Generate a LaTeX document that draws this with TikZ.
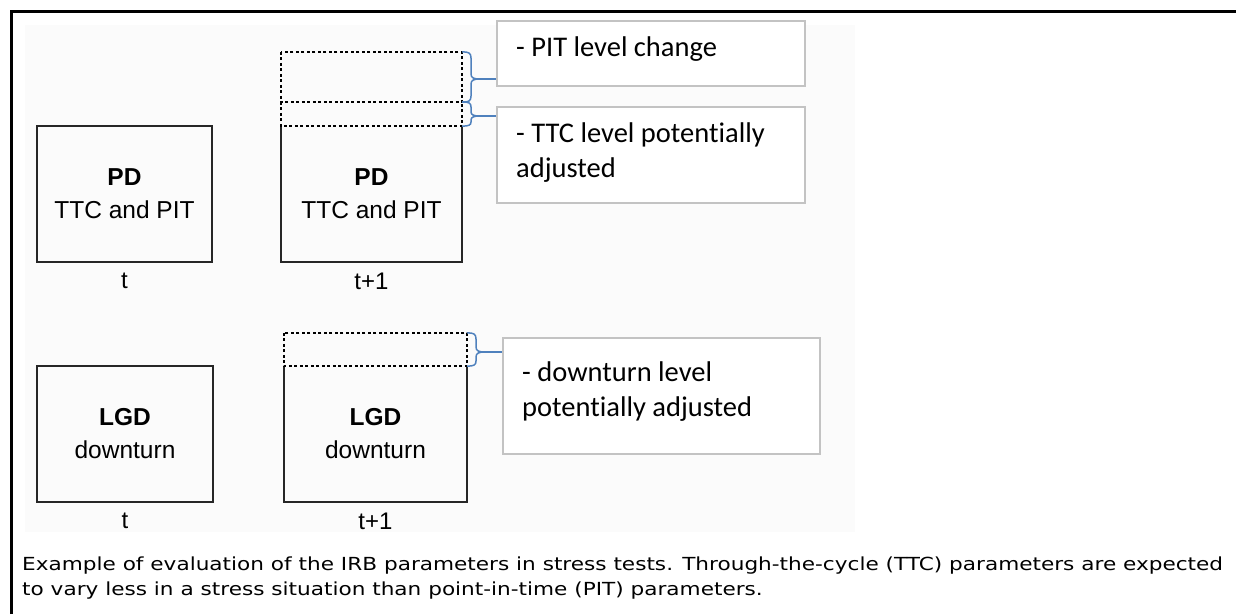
\documentclass[tikz,border=0pt]{standalone}
\usepackage{fontspec}
\setmainfont{Liberation Sans}
\newfontfamily\calfont[Ligatures=NoCommon]{Carlito}
\newfontfamily\capfont[FakeStretch=1.2]{DejaVu Sans}
\definecolor{bracecol}{RGB}{79,129,189}
\definecolor{calloutgray}{RGB}{195,195,195}
\definecolor{bggray}{RGB}{251,251,251}
\begin{document}
\begin{tikzpicture}[x=1pt,y=-1pt,
  solidbox/.style={draw=black!85, line width=1.6pt, minimum width=#1, inner sep=0pt, align=center,
     font=\fontsize{24.5}{33}\selectfont},
  plainbox/.style={minimum width=#1, inner sep=0pt, align=center, font=\fontsize{24.5}{33}\selectfont},
  dashline/.style={draw=black, line width=1.5pt, dash pattern=on 3pt off 2.5pt},
  callout/.style={draw=calloutgray, line width=1.5pt, fill=white, inner sep=0pt},
  callouttext/.style={anchor=west, inner sep=0pt, align=left, font=\calfont\fontsize{28.5}{35}\selectfont},
  bracepath/.style={draw=bracecol, line width=1.5pt},
  timelbl/.style={inner sep=0pt, font=\fontsize{24}{28}\selectfont},
]
\useasboundingbox (0,0) rectangle (1236,614);
\fill[white] (0,0) rectangle (1236,614);
\fill[bggray] (25,25) rectangle (855,532);
% frame
\draw[line width=3pt] (11.3,614) -- (11.3,11.3) -- (1236,11.3);

% ---- PD row ----
\node[solidbox=175pt, minimum height=136pt] (pdt) at (124.5,194) {\textbf{PD}\\TTC and PIT};
\node[plainbox=181pt, minimum height=136pt] (pdt1) at (371.5,194) {\textbf{PD}\\TTC and PIT};
\draw[black!85, line width=1.6pt] (pdt1.north west) -- (pdt1.south west) -- (pdt1.south east) -- (pdt1.north east);
\node[minimum width=181pt, minimum height=50pt, inner sep=0pt] (pit) at (371.5,77) {};
\node[minimum width=181pt, minimum height=24pt, inner sep=0pt] (ttc) at (371.5,114) {};
\draw[dashline] (pit.north west) rectangle (pit.south east);
\draw[dashline] (ttc.north west) -- (ttc.south west) -- (ttc.south east) -- (ttc.north east);
\node[timelbl] (tlbl1) at (124.5,281) {t};
\node[timelbl] (t1lbl1) at (371.5,281) {t+1};

% callouts upper
\node[callout, minimum width=308pt, minimum height=65pt] (pitbox) at (651,53.5) {};
\node[callout, minimum width=308pt, minimum height=96pt] (ttcbox) at (651,155) {};
\node[callouttext] (pittext) at (516,49) {- PIT level change};
\node[callouttext] (ttctext) at (516,153) {- TTC level potentially\\adjusted};

% braces upper
\coordinate (tip1) at (480,79);
\coordinate (tip2) at (480,116);
\draw[bracepath] (pit.north east) .. controls (469,52) and (471,53) .. (471,58) -- (471,74)
  .. controls (471,78) and (474,79) .. (tip1) .. controls (474,79) and (471,80) .. (471,84)
  -- (471,96) .. controls (471,101) and (469,102) .. (pit.south east);
\draw[bracepath] (ttc.north east) .. controls (469,102) and (471,103) .. (471,107) -- (471,112)
  .. controls (471,115) and (474,116) .. (tip2) .. controls (474,116) and (471,117) .. (471,120)
  -- (471,122) .. controls (471,125) and (469,126) .. (ttc.south east);
\draw[bracepath] (tip1) -- (tip1 -| pitbox.west);
\draw[bracepath] (tip2) -- (tip2 -| ttcbox.west);

% ---- LGD row ----
\node[solidbox=176pt, minimum height=136pt] (lgdt) at (125,434) {\textbf{LGD}\\downturn};
\node[plainbox=183pt, minimum height=136pt] (lgdt1) at (375.5,434) {\textbf{LGD}\\downturn};
\draw[black!85, line width=1.6pt] (lgdt1.north west) -- (lgdt1.south west) -- (lgdt1.south east) -- (lgdt1.north east);
\node[minimum width=183pt, minimum height=33pt, inner sep=0pt] (dwn) at (375.5,349.5) {};
\draw[dashline] (dwn.north west) rectangle (dwn.south east);
\node[timelbl] (tlbl2) at (125,521) {t};
\node[timelbl] (t1lbl2) at (375.5,521) {t+1};

\node[callout, minimum width=317pt, minimum height=116pt] (dwnbox) at (661.5,396) {};
\node[callouttext] (dwntext) at (522,392) {- downturn level\\potentially adjusted};

\coordinate (tip3) at (485,352);
\draw[bracepath] (dwn.north east) .. controls (474,333) and (476,334) .. (476,339) -- (476,347)
  .. controls (476,351) and (479,352) .. (tip3) .. controls (479,352) and (476,353) .. (476,357)
  -- (476,361) .. controls (476,365) and (474,366) .. (dwn.south east);
\draw[bracepath] (tip3) -- (tip3 -| dwnbox.west);

% caption
\node[anchor=west, inner sep=0pt, align=left, font=\capfont\fontsize{18}{25}\selectfont] (caption) at (22,578.5)
  {Example of evaluation of the IRB parameters in stress tests. Through-the-cycle (TTC) parameters are expected\\
   to vary less in a stress situation than point-in-time (PIT) parameters.};
\end{tikzpicture}
\end{document}
